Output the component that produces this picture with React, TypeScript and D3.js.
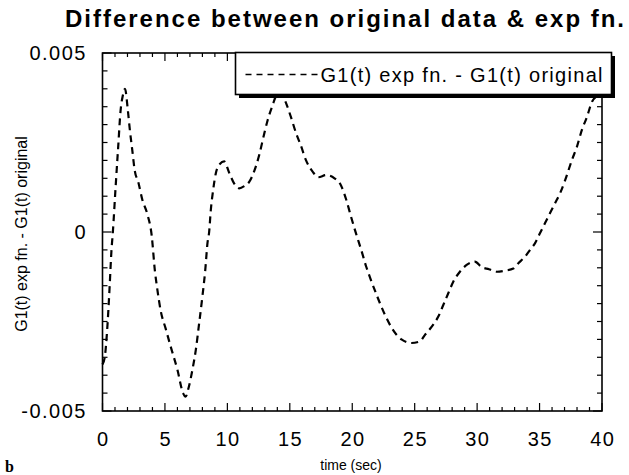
import React from "react";
import * as d3 from "d3";

const times = [0, 0.18, 0.38, 0.56, 0.72, 0.83, 1.04, 1.26, 1.45, 1.62, 1.8, 2.03, 2.19, 2.38, 2.59, 2.86, 3.19, 3.59, 3.94, 4.2, 4.39, 4.66, 5.06, 5.46, 6.0, 6.45, 6.65, 6.93, 7.2, 7.47, 7.74, 8.0, 8.22, 8.41, 8.54, 8.67, 8.86, 9.08, 9.4, 9.74, 10.15, 10.55, 10.95, 11.35, 11.75, 12.15, 12.55, 12.96, 13.23, 13.63, 13.9, 14.3, 14.7, 15.1, 15.5, 15.9, 16.3, 16.84, 17.29, 17.9, 18.58, 19.1, 19.52, 19.9, 20.3, 20.72, 21.12, 21.39, 22.0, 22.6, 23.2, 23.94, 24.74, 25.4, 25.81, 26.35, 26.88, 27.29, 27.69, 28.09, 28.62, 29.16, 29.82, 30.36, 30.95, 31.57, 32.24, 32.9, 33.3, 33.84, 34.24, 34.64, 35.04, 35.44, 35.84, 36.25, 36.65, 37.05, 37.59, 37.99, 38.39, 38.8, 39.2, 39.6, 40];

const diffValues = [-0.0037, -0.0035, -0.0027, -0.0016, -0.0005, 0.0, 0.0012, 0.0024, 0.0034, 0.0038, 0.004, 0.0034, 0.00285, 0.0023, 0.0017, 0.0014, 0.0009, 0.0005, -0.0001, -0.0011, -0.0016, -0.0022, -0.0027, -0.0032, -0.00385, -0.0045, -0.0046, -0.0043, -0.00385, -0.0033, -0.00255, -0.0018, -0.0011, -0.0003, 0.0, 0.0006, 0.00117, 0.00165, 0.0019, 0.00197, 0.00165, 0.00135, 0.00122, 0.00128, 0.0014, 0.0017, 0.00215, 0.00276, 0.00313, 0.00355, 0.0038, 0.0039, 0.0036, 0.0032, 0.00276, 0.0024, 0.002, 0.00168, 0.00153, 0.00159, 0.0015, 0.0013, 0.0009, 0.00043, -0.00004, -0.0005, -0.00097, -0.00124, -0.0018, -0.0023, -0.0027, -0.003, -0.0031, -0.00306, -0.00288, -0.00265, -0.00237, -0.00204, -0.00171, -0.00139, -0.00111, -0.00092, -0.00083, -0.00098, -0.00104, -0.00111, -0.00108, -0.00102, -0.00087, -0.00069, -0.0005, -0.00031, -0.00003, 0.00025, 0.00053, 0.00081, 0.00109, 0.00145, 0.00201, 0.00238, 0.00285, 0.00322, 0.00364, 0.0038, 0.0039];

const xTickLabels = [0, 5, 10, 15, 20, 25, 30, 35, 40];
const yTickLabels = [0.005, 0, -0.005];
const yTickText = ["0.005", "0", "-0.005"];

const titleText = "Difference between original data & exp fn.";
const yLabel = "G1(t) exp fn. - G1(t) original";
const xLabel = "time (sec)";
const legendLabel = "G1(t) exp fn. - G1(t) original";

export default function App() {
  const W = 629;
  const H = 475;
  const left = 102.5;
  const right = 602;
  const top = 53;
  const bottom = 411;

  const x = d3.scaleLinear().domain([0, 40]).range([left, right]);
  const y = d3.scaleLinear().domain([-0.005, 0.005]).range([bottom, top]);

  const data = times.map((t, i) => [t, diffValues[i]] as [number, number]);
  const line = d3
    .line<[number, number]>()
    .x((d) => x(d[0]))
    .y((d) => y(d[1]))
    .curve(d3.curveMonotoneX);

  const xMinor = d3.range(0, 41, 1);
  const yMinor = d3.range(-10, 11).map((k) => k * 0.0005);

  const font = "'Liberation Sans', Arial, Helvetica, sans-serif";

  const legX = 235.5;
  const legY = 52.5;
  const legW = 376;
  const legH = 42;

  return (
    <svg
      width={W}
      height={H}
      style={{ position: "absolute", left: 0, top: 0, background: "#fff" }}
    >
      <rect x={0} y={0} width={W} height={H} fill="#fff" />
      <text
        x={65}
        y={27}
        fontFamily={font}
        fontWeight="bold"
        fontSize={24}
        textLength={559}
        lengthAdjust="spacing"
      >
        {titleText}
      </text>

      {/* frame */}
      <rect
        x={left}
        y={top}
        width={right - left}
        height={bottom - top}
        fill="none"
        stroke="#000"
        strokeWidth={1.6}
      />

      {/* x ticks bottom and top */}
      {xMinor.map((t) => {
        const major = t % 5 === 0;
        const len = major ? 8 : 4;
        return (
          <g key={"xt" + t}>
            <line x1={x(t)} x2={x(t)} y1={bottom} y2={bottom - len} stroke="#000" strokeWidth={1.2} />
            <line x1={x(t)} x2={x(t)} y1={top} y2={top + len} stroke="#000" strokeWidth={1.2} />
          </g>
        );
      })}
      {/* y ticks left and right */}
      {yMinor.map((v, i) => {
        const major = Math.abs(Math.round(v / 0.0005)) % 10 === 0;
        const len = major ? 9 : 5;
        return (
          <g key={"yt" + i}>
            <line x1={left} x2={left + len} y1={y(v)} y2={y(v)} stroke="#000" strokeWidth={1.2} />
            <line x1={right} x2={right - len} y1={y(v)} y2={y(v)} stroke="#000" strokeWidth={1.2} />
          </g>
        );
      })}

      {/* x tick labels */}
      {xTickLabels.map((t) => (
        <text
          key={"xl" + t}
          x={x(t) + 0.75}
          y={446}
          textAnchor="middle"
          fontFamily={font}
          fontSize={20}
          letterSpacing={1.5}
        >
          {t}
        </text>
      ))}
      {/* y tick labels */}
      {yTickLabels.map((v, i) => (
        <text
          key={"yl" + i}
          x={87}
          y={y(v) + 7}
          textAnchor="end"
          fontFamily={font}
          fontSize={20}
          letterSpacing={1.5}
        >
          {yTickText[i]}
        </text>
      ))}

      {/* data curve */}
      <path
        d={line(data) || ""}
        fill="none"
        stroke="#000"
        strokeWidth={2.2}
        strokeDasharray="7,5"
      />

      {/* legend */}
      <rect x={legX + 3.5} y={legY + 3.5} width={legW} height={legH} fill="#000" />
      <rect x={legX} y={legY} width={legW} height={legH} fill="#fff" stroke="#000" strokeWidth={1.6} />
      <line x1={legX + 10} x2={legX + 82} y1={legY + 22} y2={legY + 22} stroke="#000" strokeWidth={1.6} strokeDasharray="6,5" />
      <text
        x={legX + 85}
        y={legY + 29.5}
        fontFamily={font}
        fontSize={20}
        textLength={282}
        lengthAdjust="spacing"
      >
        {legendLabel}
      </text>

      {/* axis labels */}
      <text
        transform={`translate(27, 234) rotate(-90)`}
        textAnchor="middle"
        fontFamily={font}
        fontSize={16}
      >
        {yLabel}
      </text>
      <text x={351} y={470} textAnchor="middle" fontFamily={font} fontSize={14}>
        {xLabel}
      </text>
      <text x={5} y={472} fontFamily="'Liberation Serif', 'Times New Roman', serif" fontWeight="bold" fontSize={16}>
        b
      </text>
    </svg>
  );
}
